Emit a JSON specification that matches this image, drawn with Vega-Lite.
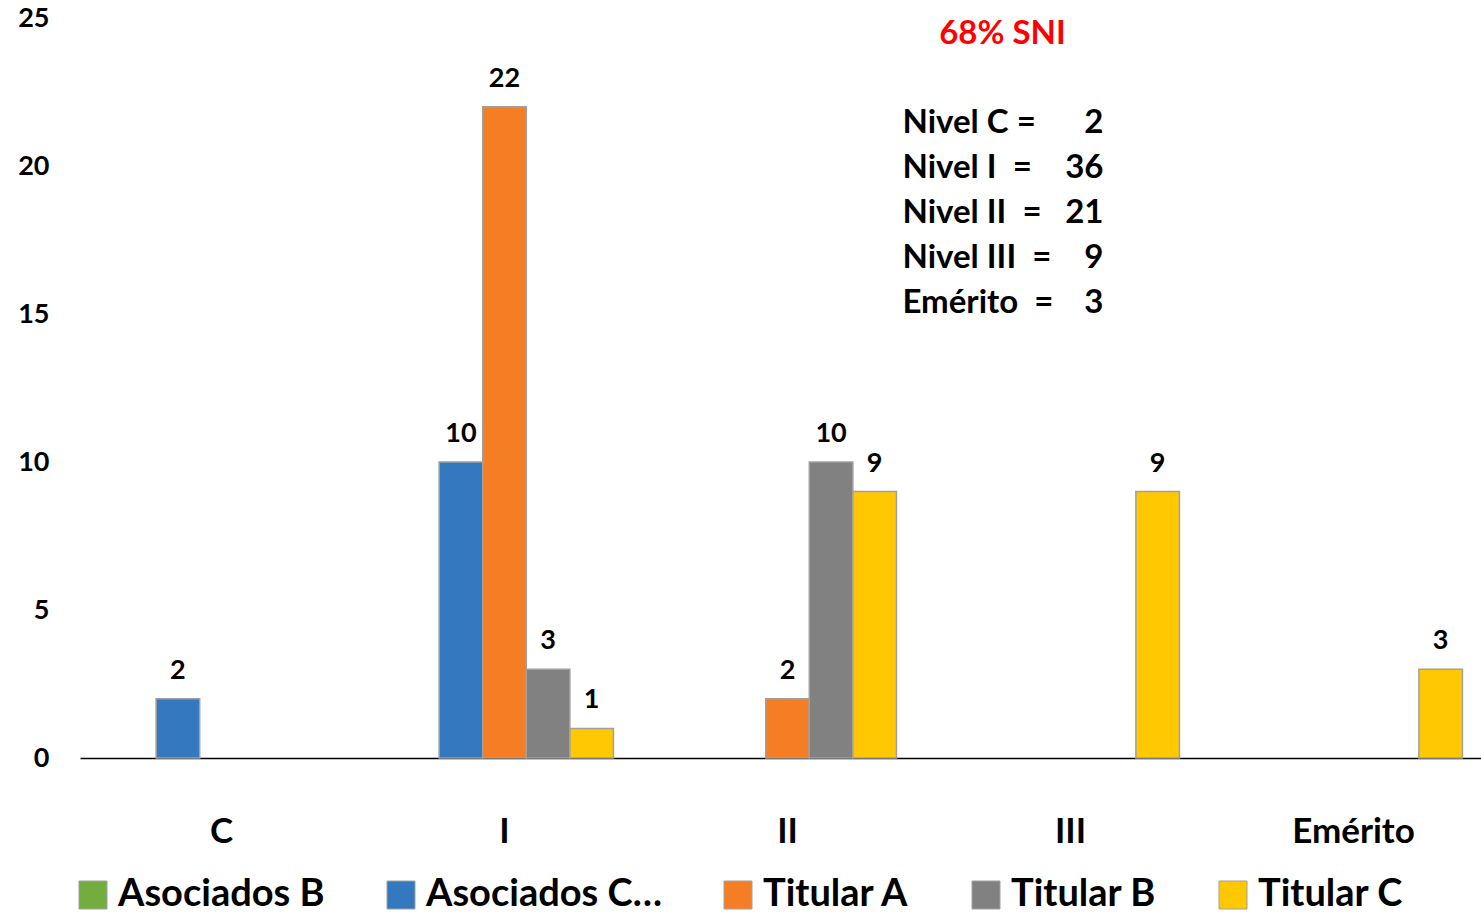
{
  "$schema": "https://vega.github.io/schema/vega-lite/v6.json",
  "width": 1401,
  "height": 740,
  "autosize": {"type": "none"},
  "padding": {"left": 80, "top": 18, "right": 0, "bottom": 156},
  "background": "white",
  "config": {"view": {"stroke": null}, "font": "Lato"},
  "datasets": {
    "barras": [
      {"nivel": "C", "serie": "Asociados C", "n": 2},
      {"nivel": "I", "serie": "Asociados C", "n": 10},
      {"nivel": "I", "serie": "Titular A", "n": 22},
      {"nivel": "I", "serie": "Titular B", "n": 3},
      {"nivel": "I", "serie": "Titular C", "n": 1},
      {"nivel": "II", "serie": "Titular A", "n": 2},
      {"nivel": "II", "serie": "Titular B", "n": 10},
      {"nivel": "II", "serie": "Titular C", "n": 9},
      {"nivel": "III", "serie": "Titular C", "n": 9},
      {"nivel": "Emérito", "serie": "Titular C", "n": 3}
    ],
    "resumen": [
      {"etiqueta": "Nivel C =", "total": 2},
      {"etiqueta": "Nivel I\u00a0\u00a0=", "total": 36},
      {"etiqueta": "Nivel II\u00a0\u00a0=", "total": 21},
      {"etiqueta": "Nivel III\u00a0\u00a0=", "total": 9},
      {"etiqueta": "Emérito\u00a0\u00a0=", "total": 3}
    ],
    "titulo": [{"t": "68% SNI"}]
  },
  "resolve": {"scale": {"y": "independent"}},
  "layer": [
    {
      "data": {"name": "barras"},
      "layer": [
        {
          "mark": {"type": "bar", "stroke": "#a0a0a0", "strokeWidth": 1.5},
          "encoding": {
            "x": {
              "field": "nivel", "type": "nominal",
              "sort": ["C", "I", "II", "III", "Emérito"],
              "scale": {"range": [0, 1415], "paddingInner": 0.23, "paddingOuter": 0.115},
              "axis": {
                "title": null, "domain": true, "domainColor": "black", "domainWidth": 1.5,
                "ticks": false, "labelFontSize": 35, "labelFontWeight": "bold",
                "labelColor": "black", "labelPadding": 56, "labelAngle": 0
              }
            },
            "xOffset": {
              "field": "serie", "type": "nominal",
              "scale": {"domain": ["Asociados B", "Asociados C", "Titular A", "Titular B", "Titular C"], "paddingInner": 0, "paddingOuter": 0}
            },
            "y": {
              "field": "n", "type": "quantitative",
              "scale": {"domain": [0, 25], "nice": false},
              "axis": {
                "title": null, "values": [0, 5, 10, 15, 20, 25], "domain": false, "ticks": false,
                "grid": false, "labelFontSize": 27, "labelFontWeight": "bold",
                "labelColor": "black", "labelPadding": 31
              }
            },
            "color": {
              "field": "serie", "type": "nominal",
              "scale": {
                "domain": ["Asociados B", "Asociados C", "Titular A", "Titular B", "Titular C"],
                "range": ["#72ad3e", "#3479bf", "#f57e25", "#818181", "#ffc800"]
              },
              "legend": {
                "title": null, "orient": "none", "legendX": -6, "legendY": 858,
                "direction": "horizontal", "symbolType": "square", "symbolSize": 784,
                "symbolStrokeColor": "#a0a0a0", "symbolStrokeWidth": 1,
                "labelFontSize": 38, "labelFontWeight": "bold", "labelColor": "black",
                "labelOffset": 6, "columnPadding": 57, "labelLimit": 500,
                "labelExpr": "datum.label == 'Asociados C' ? 'Asociados C…' : datum.label"
              }
            }
          }
        },
        {
          "mark": {"type": "text", "fontSize": 27, "fontWeight": "bold", "color": "black", "baseline": "alphabetic", "dy": -20},
          "encoding": {
            "x": {"field": "nivel", "type": "nominal", "sort": ["C", "I", "II", "III", "Emérito"]},
            "xOffset": {"field": "serie", "type": "nominal"},
            "y": {"field": "n", "type": "quantitative"},
            "text": {"field": "n", "type": "quantitative"}
          }
        },
        {
          "data": {"name": "titulo"},
          "mark": {"type": "text", "fontSize": 33, "fontWeight": "bold", "color": "#ff0000", "align": "center", "baseline": "alphabetic", "dx": -68},
          "encoding": {
            "x": {"datum": "III", "type": "nominal"},
            "y": {"datum": 24.12, "type": "quantitative"},
            "text": {"field": "t", "type": "nominal"}
          }
        }
      ]
    },
    {
      "data": {"name": "resumen"},
      "encoding": {
        "x": {"datum": "III", "type": "nominal"},
        "y": {
          "field": "etiqueta", "type": "ordinal", "sort": null,
          "scale": {"type": "point", "range": [115, 295], "padding": 0},
          "axis": null
        }
      },
      "layer": [
        {
          "mark": {"type": "text", "fontSize": 33, "fontWeight": "bold", "color": "black", "align": "left", "baseline": "alphabetic", "dx": -168},
          "encoding": {"text": {"field": "etiqueta", "type": "nominal"}}
        },
        {
          "mark": {"type": "text", "fontSize": 33, "fontWeight": "bold", "color": "black", "align": "right", "baseline": "alphabetic", "dx": 33},
          "encoding": {"text": {"field": "total", "type": "quantitative"}}
        }
      ]
    }
  ]
}
